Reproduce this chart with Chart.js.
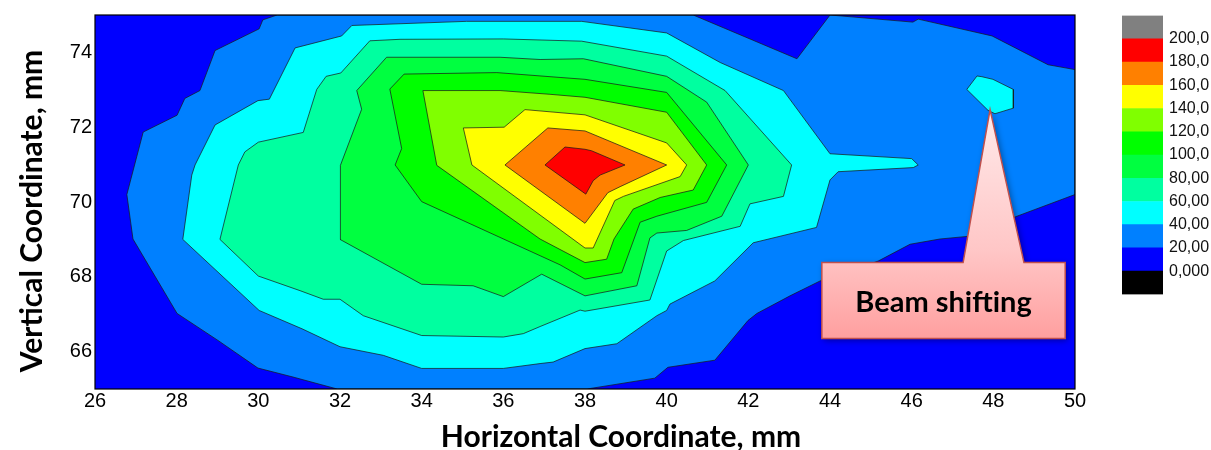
<!DOCTYPE html>
<html>
<head>
<meta charset="utf-8">
<script src="https://cdn.jsdelivr.net/npm/chart.js@4.4.1/dist/chart.umd.min.js"></script>
<style>
  html, body { margin: 0; padding: 0; background: #fff; }
  #wrap { position: relative; width: 1211px; height: 450px; }
  #c1 { position: absolute; left: 0; top: 0; }
  #c2 { position: absolute; left: 1100px; top: 0; }
</style>
</head>
<body>
<div id="wrap">
  <canvas id="c1" width="1211" height="450"></canvas>
  <canvas id="c2" width="111" height="310"></canvas>
</div>
<script>
// Axis ticks (mm)
const xTicks = [26, 28, 30, 32, 34, 36, 38, 40, 42, 44, 46, 48, 50];
const yTicks = [66, 68, 70, 72, 74];

// Colour-scale levels and their printed labels
const levelEdges = [-20, 0, 20, 40, 60, 80, 100, 120, 140, 160, 180, 200, 220];
const levelLabels = ['0,000', '20,00', '40,00', '60,00', '80,00', '100,0', '120,0', '140,0', '160,0', '180,0', '200,0'];

// Iso-contour outlines [x mm, y mm]; each ring encloses values above its level
const region0 = [[26, 65], [50, 65], [50, 75], [26, 75]];

const region20 = [[30.46, 75], [30.11, 74.87], [30.02, 74.63], [28.94, 74.05], [28.57, 72.98], [28.20, 72.77],
  [28.01, 72.32], [27.18, 71.87], [26.78, 70.20], [26.93, 69.01], [28.01, 67.02], [29.01, 66.30], [29.99, 65.56],
  [30.85, 65.32], [31.93, 65], [38.05, 65], [39.71, 65.29], [40.03, 65.58], [41.18, 65.77], [41.99, 66.83],
  [42.21, 67.02], [43.02, 67.49], [43.76, 67.89], [45.18, 68.42], [45.96, 68.87], [46.69, 69.01], [47.36, 69.08],
  [48.58, 69.62], [50, 70.20], [50, 73.54], [49.34, 73.67], [47.97, 74.44], [46.16, 74.89], [46.03, 74.81],
  [44.0, 75], [43.19, 73.83], [40.65, 75]];

const region40 = [[32.29, 74.72], [35.10, 74.83], [37.92, 74.83], [40.00, 74.52], [41.31, 73.73], [42.86, 72.98],
  [44.00, 71.29], [46.00, 71.16], [46.16, 70.99], [46.04, 70.92], [44.20, 70.81], [44.00, 70.59], [43.67, 69.32],
  [42.12, 68.91], [41.18, 67.89], [40.08, 67.27], [40.00, 67.10], [39.76, 66.96], [38.78, 66.21], [38.00, 66.08],
  [37.22, 65.72], [36.90, 65.68], [36.00, 65.55], [34.00, 65.55], [33.06, 65.90], [32.00, 66.13], [31.07, 66.61],
  [30.02, 67.10], [28.15, 69.00], [28.37, 70.72], [28.45, 70.99], [28.94, 72.06], [29.99, 72.71], [30.27, 72.75],
  [30.90, 74.12], [32.04, 74.44]];

const island40 = [[47.35, 73.01], [47.60, 73.37], [47.72, 73.35], [47.99, 73.28], [48.49, 73.01], [48.49, 72.51],
  [48.04, 72.36], [47.87, 72.45]];

const region60 = [[32.73, 74.31], [33.47, 74.35], [36.00, 74.36], [37.92, 74.30], [40.00, 73.90], [41.43, 72.98],
  [43.06, 70.99], [42.86, 70.15], [42.04, 69.95], [41.80, 69.35], [40.41, 68.97], [40.00, 68.69], [39.59, 67.38],
  [38.00, 67.08], [37.88, 67.11], [36.90, 66.67], [36.49, 66.48], [36.00, 66.39], [34.00, 66.43], [32.57, 66.96],
  [32.00, 67.40], [31.59, 67.40], [31.02, 67.63], [30.00, 68.02], [29.06, 69.00], [29.51, 70.99], [29.67, 71.34],
  [30.00, 71.60], [31.10, 71.86], [31.43, 73.01], [31.66, 73.36], [32.02, 73.45]];

const region80 = [[33.14, 73.87], [35.92, 73.87], [36.90, 73.81], [37.96, 73.83], [40.00, 73.36], [40.98, 72.67],
  [42.00, 70.99], [41.35, 69.62], [40.49, 69.24], [39.76, 69.17], [39.59, 69.04], [39.27, 67.76], [38.00, 67.49],
  [36.94, 68.07], [36.00, 67.47], [35.26, 67.76], [34.00, 67.80], [32.00, 69.00], [32.00, 70.01], [32.02, 70.98],
  [32.53, 72.48], [32.41, 72.98]];

const region100 = [[33.22, 73.02], [33.57, 73.42], [35.84, 73.46], [37.39, 73.33], [38.00, 73.28], [40.00, 72.93],
  [41.47, 70.99], [40.98, 69.99], [39.76, 69.62], [39.35, 69.46], [38.90, 68.11], [38.00, 67.94], [37.39, 68.32],
  [34.00, 70.01], [33.35, 70.99], [33.51, 71.43]];

const region120 = [[34.03, 72.98], [35.92, 72.98], [37.14, 72.88], [38.00, 72.80], [40.00, 72.40], [40.98, 70.99],
  [40.65, 70.32], [39.84, 70.12], [39.18, 69.81], [38.71, 69.01], [38.53, 68.47], [38.00, 68.38], [36.90, 69.01],
  [34.37, 70.98]];

const region140 = [[35.02, 71.98], [36.02, 72.00], [36.53, 72.47], [38.00, 72.33], [40.00, 71.58], [40.49, 70.99],
  [40.33, 70.68], [38.94, 70.15], [38.73, 70.04], [38.20, 68.77], [38.00, 68.77], [35.23, 70.99]];

const region160 = [[36.04, 70.99], [37.09, 71.98], [38.00, 71.90], [40.00, 70.99], [38.86, 70.41], [38.56, 70.25],
  [38.00, 69.43]];

const region180 = [[37.02, 70.99], [37.51, 71.47], [38.00, 71.41], [38.16, 71.37], [38.98, 70.99], [38.37, 70.72],
  [38.20, 70.57], [38.02, 70.21]];

// Band colours, one per level interval (below 0 ... above 200)
const bandColors = ['#000000', '#0000ff', '#0080ff', '#00ffff', '#00ffa0', '#00ff40', '#00ff00',
  '#80ff00', '#ffff00', '#ff8000', '#ff0000', '#808080'];
const colorFor = level => bandColors[levelEdges.indexOf(level)];

const regions = [
  { level: 0, ring: region0 },
  { level: 20, ring: region20 },
  { level: 40, ring: region40 },
  { level: 40, ring: island40 },
  { level: 60, ring: region60 },
  { level: 80, ring: region80 },
  { level: 100, ring: region100 },
  { level: 120, ring: region120 },
  { level: 140, ring: region140 },
  { level: 160, ring: region160 },
  { level: 180, ring: region180 }
];

const closeRing = ring => ring.concat([ring[0]]).map(([x, y]) => ({ x, y }));

const datasets = regions.map((r, i) => ({
  data: closeRing(r.ring),
  backgroundColor: colorFor(r.level),
  borderColor: r.level === 0 ? 'rgba(0,0,0,0)' : 'rgba(25,25,25,0.9)',
  borderWidth: 0.8,
  fill: 'shape',
  pointRadius: 0,
  pointHoverRadius: 0,
  tension: 0,
  order: regions.length - i
}));

const xTitle = 'Horizontal Coordinate, mm';
const yTitle = 'Vertical Coordinate, mm';

// Callout label, anchored in axis units
const calloutSpec = {
  text: 'Beam shifting',
  tipX: 47.92, tipY: 72.47,
  baseX0: 47.26, baseX1: 48.75,
  boxX0: 43.80, boxX1: 49.76, boxTop: 68.38, boxBottom: 66.35
};

const titleFontCss = 'bold 30px Lato, "Open Sans", sans-serif';

const decorPlugin = {
  id: 'frameTitlesCallout',
  afterDatasetsDraw(chart) {
    const { ctx, chartArea: a, scales: { x, y } } = chart;
    ctx.save();
    // plot frame
    ctx.strokeStyle = '#000';
    ctx.lineWidth = 1.2;
    ctx.strokeRect(a.left, a.top, a.right - a.left, a.bottom - a.top);

    // callout
    const c = calloutSpec;
    const L = x.getPixelForValue(c.boxX0), R = x.getPixelForValue(c.boxX1);
    const T = y.getPixelForValue(c.boxTop), B = y.getPixelForValue(c.boxBottom);
    const tx = x.getPixelForValue(c.tipX), ty = y.getPixelForValue(c.tipY);
    const b0 = x.getPixelForValue(c.baseX0), b1 = x.getPixelForValue(c.baseX1);
    ctx.beginPath();
    ctx.moveTo(L, T);
    ctx.lineTo(b0, T);
    ctx.lineTo(tx, ty);
    ctx.lineTo(b1, T);
    ctx.lineTo(R, T);
    ctx.lineTo(R, B);
    ctx.lineTo(L, B);
    ctx.closePath();
    const g = ctx.createLinearGradient(0, ty, 0, B);
    g.addColorStop(0, '#ffeaea');
    g.addColorStop(0.62, '#ffc6c6');
    g.addColorStop(1, '#ff9f9f');
    ctx.fillStyle = g;
    ctx.shadowColor = 'rgba(0,0,0,0.38)';
    ctx.shadowBlur = 6;
    ctx.shadowOffsetX = 2;
    ctx.shadowOffsetY = 2;
    ctx.fill();
    ctx.shadowColor = 'rgba(0,0,0,0)';
    ctx.strokeStyle = '#c0504d';
    ctx.lineWidth = 1.5;
    ctx.stroke();

    ctx.fillStyle = '#000';
    ctx.font = 'bold 29px Lato, "Open Sans", sans-serif';
    ctx.textAlign = 'center';
    ctx.textBaseline = 'middle';
    ctx.fillText(c.text, (L + R) / 2, (T + B) / 2 + 2);

    // axis titles
    ctx.font = titleFontCss;
    ctx.fillText(xTitle, (a.left + a.right) / 2 + 36, 437);
    ctx.translate(32, (a.top + a.bottom) / 2 + 9);
    ctx.rotate(-Math.PI / 2);
    ctx.fillText(yTitle, 0, 0);
    ctx.restore();
  }
};

const tickFont = { family: '"Liberation Sans", Arial, sans-serif', size: 20 };

new Chart(document.getElementById('c1'), {
  type: 'line',
  data: { datasets },
  options: {
    responsive: false,
    animation: false,
    devicePixelRatio: 1,
    layout: { padding: { left: 0, top: 12, right: 136, bottom: 0 } },
    plugins: { legend: { display: false }, tooltip: { enabled: false } },
    events: [],
    scales: {
      x: {
        type: 'linear', min: 26, max: 50,
        afterBuildTicks: s => { s.ticks = xTicks.map(v => ({ value: v })); },
        afterFit: s => { s.height = 61; },
        grid: { display: false, drawTicks: false },
        border: { display: false },
        ticks: { font: tickFont, color: '#000', padding: 0, maxRotation: 0, autoSkip: false }
      },
      y: {
        type: 'linear', min: 65, max: 75,
        afterBuildTicks: s => { s.ticks = yTicks.map(v => ({ value: v })); },
        afterFit: s => { s.width = 95; },
        grid: { display: false, drawTicks: false },
        border: { display: false },
        ticks: { font: tickFont, color: '#000', padding: 3, autoSkip: false }
      }
    }
  },
  plugins: [decorPlugin]
});

// Colour scale bar
const scaleSets = bandColors.map((col, i) => ({
  data: [[levelEdges[i], levelEdges[i + 1]]],
  backgroundColor: col,
  borderWidth: 0,
  barPercentage: 1,
  categoryPercentage: 1
}));

new Chart(document.getElementById('c2'), {
  type: 'bar',
  data: { labels: [''], datasets: scaleSets },
  options: {
    responsive: false,
    animation: false,
    devicePixelRatio: 1,
    layout: { padding: { left: 22, top: 12, right: 0, bottom: 15 } },
    plugins: { legend: { display: false }, tooltip: { enabled: false } },
    events: [],
    scales: {
      x: { stacked: true, display: false },
      y: {
        min: -20, max: 220, position: 'right', stacked: false,
        afterBuildTicks: s => { s.ticks = levelEdges.slice(1, -1).map(v => ({ value: v })); },
        afterFit: s => { s.width = 48; },
        grid: { display: false, drawTicks: false },
        border: { display: false },
        ticks: {
          font: { family: '"Liberation Sans", Arial, sans-serif', size: 16 },
          color: '#111', padding: 6,
          callback: v => levelLabels[levelEdges.indexOf(v) - 1]
        }
      }
    }
  }
});
</script>
</body>
</html>
